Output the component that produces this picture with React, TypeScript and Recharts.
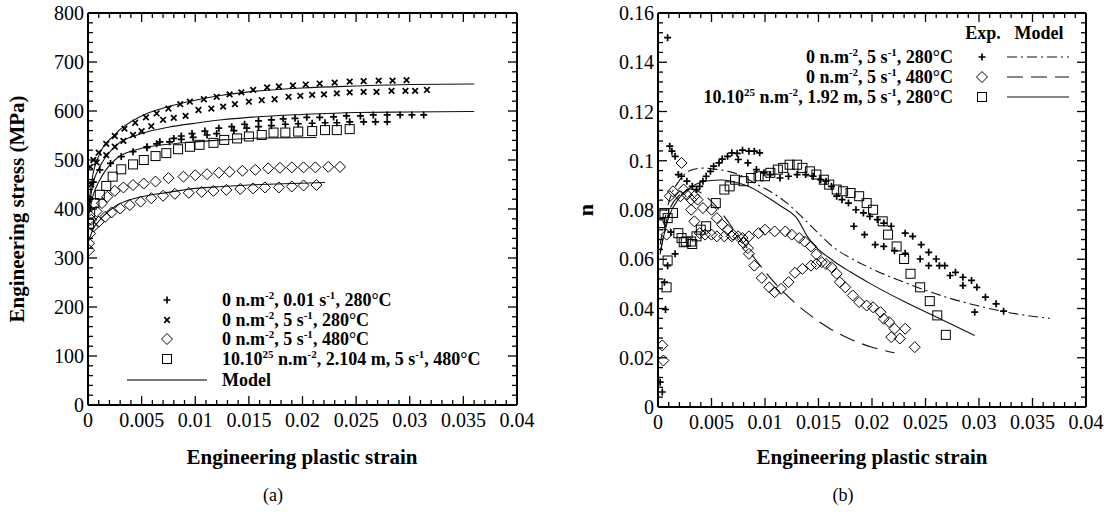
import React from 'react';
import { ComposedChart, Scatter, Line, XAxis, YAxis } from 'recharts';

const FONT = '"Liberation Serif", "Times New Roman", serif';

// ---------- axis ticks ----------
const X_TICK_LABELS = ['0', '0.005', '0.01', '0.015', '0.02', '0.025', '0.03', '0.035', '0.04'];
const STRESS_TICK_LABELS = ['0', '100', '200', '300', '400', '500', '600', '700', '800'];
const N_TICK_LABELS = ['0', '0.02', '0.04', '0.06', '0.08', '0.1', '0.12', '0.14', '0.16'];
const X_TICKS = Array.from({ length: 41 }, (_, i) => i / 1000);
const STRESS_TICKS = Array.from({ length: 41 }, (_, i) => i * 20);
const N_TICKS = Array.from({ length: 41 }, (_, i) => (i * 4) / 1000);

// ---------- (a) stress vs strain ----------
const stressPlusA = [[0.0055,527],[0.0067,537],[0.008,544],[0.0087,549],[0.0097,554],[0.0109,559],[0.0122,565],[0.0134,568],[0.0146,573],[0.0159,580],[0.0171,582],[0.0182,584],[0.0193,585],[0.0204,587],[0.0216,587],[0.0229,588],[0.0241,590],[0.0254,590],[0.0266,592],[0.0279,592],[0.0291,592],[0.0302,592],[0.0313,592]];
const stressPlusB = [[0.0002,420],[0.0005,455],[0.0011,480],[0.0021,493],[0.0031,507],[0.0042,517],[0.0055,525],[0.0064,533],[0.0076,537],[0.0087,542],[0.0098,546],[0.0111,551],[0.012,554],[0.0136,560],[0.0148,565],[0.0159,568],[0.0171,570],[0.0184,573],[0.0196,574],[0.0209,575],[0.0221,576],[0.0232,576],[0.0244,578],[0.0257,578],[0.0268,578],[0.0279,578]];
const stressCrossA = [[0.0001,420],[0.0002,486],[0.0005,500],[0.001,515],[0.0017,533],[0.0025,549],[0.0034,564],[0.0044,576],[0.0054,587],[0.0064,595],[0.0075,605],[0.0086,614],[0.0095,619],[0.0108,624],[0.012,629],[0.0132,634],[0.0143,638],[0.0154,643],[0.0167,648],[0.0178,650],[0.0191,652],[0.0203,654],[0.0216,656],[0.023,658],[0.0244,660],[0.0257,661],[0.0271,662],[0.0284,662],[0.0297,663]];
const stressCrossB = [[0.0001,400],[0.0003,450],[0.0008,495],[0.0017,510],[0.0025,527],[0.0033,539],[0.0042,551],[0.005,559],[0.0059,569],[0.007,582],[0.008,586],[0.0091,590],[0.0103,602],[0.0115,605],[0.0126,609],[0.0137,614],[0.015,619],[0.0162,622],[0.0174,624],[0.0187,629],[0.0198,631],[0.0209,633],[0.022,634],[0.0232,636],[0.0244,638],[0.0257,639],[0.0269,639],[0.0283,641],[0.0296,641],[0.0305,641],[0.0316,643]];
const stressDiamondA = [[0.0001,330],[0.0003,378],[0.0008,395],[0.0013,412],[0.0018,425],[0.0025,437],[0.0033,444],[0.0042,449],[0.0052,452],[0.0063,456],[0.0075,463],[0.0089,466],[0.01,469],[0.0111,471],[0.0122,474],[0.0132,476],[0.0144,478],[0.0156,480],[0.0168,483],[0.0179,484],[0.019,485],[0.0201,485],[0.0212,485],[0.0224,486],[0.0235,486]];
const stressDiamondB = [[0.0001,316],[0.0002,350],[0.0005,364],[0.001,374],[0.0016,384],[0.0022,393],[0.003,401],[0.0039,408],[0.0049,415],[0.0059,422],[0.007,427],[0.0081,431],[0.0094,433],[0.0106,435],[0.0117,437],[0.0129,439],[0.0142,441],[0.0154,442],[0.0165,444],[0.0178,444],[0.019,446],[0.0201,448],[0.0213,449]];
const stressSquare = [[0.0001,370],[0.0002,391],[0.0006,412],[0.0011,429],[0.0017,447],[0.0023,466],[0.0031,481],[0.0042,491],[0.0052,500],[0.0063,508],[0.0073,514],[0.0084,522],[0.0095,527],[0.0104,531],[0.0117,535],[0.0127,541],[0.0139,544],[0.015,548],[0.0162,551],[0.0173,556],[0.0184,556],[0.0196,558],[0.0209,559],[0.0221,561],[0.0232,561],[0.0244,563]];
const stressModelPlus = [[0,390],[0.0005,455],[0.001,482],[0.0025,527],[0.005,554],[0.0075,567],[0.01,575],[0.0125,582],[0.015,587],[0.02,593],[0.025,597],[0.03,598],[0.036,599]];
const stressModelCross = [[0,400],[0.0005,475],[0.001,508],[0.0025,552],[0.005,590],[0.0075,609],[0.01,622],[0.0125,632],[0.015,639],[0.02,647],[0.025,651],[0.03,654],[0.036,655]];
const stressModelSquare = [[0,380],[0.0005,430],[0.001,455],[0.0025,500],[0.005,524],[0.0075,532],[0.01,537],[0.0125,541],[0.015,544],[0.0175,545],[0.0213,546]];
const stressModelDiamond = [[0,330],[0.0005,360],[0.001,375],[0.0025,405],[0.005,425],[0.0075,434],[0.01,442],[0.0125,446],[0.015,449],[0.0175,451],[0.0221,454]];

// ---------- (b) n vs strain ----------
const nPlus = [[0.0009,0.150],[0.0002,0.0101],[0.0004,0.0061],[0.0007,0.0396],[0.0006,0.0507],[0.0009,0.0574],[0.0016,0.0622],[0.0012,0.071],[0.0011,0.1059],[0.0013,0.1039],[0.0016,0.1018],[0.0019,0.0944],[0.0022,0.0937],[0.0027,0.0917],[0.0032,0.0896],[0.0036,0.0883],[0.0039,0.0896],[0.0042,0.0917],[0.0045,0.0937],[0.0049,0.0957],[0.0052,0.0978],[0.0057,0.0991],[0.006,0.1007],[0.0065,0.1018],[0.0069,0.1032],[0.0074,0.103],[0.0079,0.1043],[0.0085,0.1039],[0.009,0.1039],[0.0095,0.1032],[0.0075,0.1005],[0.0084,0.0991],[0.0092,0.0964],[0.0099,0.0951],[0.0105,0.0944],[0.0114,0.093],[0.0122,0.0937],[0.013,0.0944],[0.0138,0.0944],[0.0145,0.0937],[0.0152,0.0923],[0.0157,0.0917],[0.0162,0.0896],[0.0167,0.0856],[0.0172,0.0842],[0.0178,0.0828],[0.0185,0.0801],[0.0192,0.0788],[0.0198,0.0774],[0.0205,0.0761],[0.0211,0.0747],[0.0218,0.0734],[0.0231,0.0706],[0.0238,0.0693],[0.0246,0.0659],[0.0253,0.0628],[0.026,0.0601],[0.0268,0.0574],[0.0278,0.0547],[0.0285,0.0527],[0.0293,0.0514],[0.0298,0.0486],[0.0306,0.0446],[0.0316,0.0419],[0.0323,0.0389],[0.0183,0.0734],[0.0193,0.07],[0.0203,0.0659],[0.0211,0.0652],[0.0221,0.0635],[0.0231,0.0624],[0.0245,0.0601],[0.0253,0.0574],[0.0263,0.0574],[0.0273,0.0534],[0.0285,0.0493],[0.0296,0.0385]];
const nDiamond = [[0.0004,0.025],[0.0005,0.0189],[0.0008,0.07],[0.0011,0.0856],[0.0014,0.0876],[0.0021,0.0856],[0.0022,0.0991],[0.0024,0.0883],[0.0027,0.0862],[0.0031,0.0842],[0.0031,0.0801],[0.0034,0.0856],[0.0034,0.0754],[0.0037,0.0842],[0.0039,0.0706],[0.0042,0.0808],[0.0044,0.07],[0.005,0.0801],[0.005,0.07],[0.0055,0.0767],[0.0055,0.0693],[0.006,0.074],[0.0062,0.0693],[0.0065,0.072],[0.0069,0.0693],[0.007,0.07],[0.0075,0.0693],[0.0079,0.0686],[0.008,0.0666],[0.0084,0.0645],[0.0085,0.0693],[0.0085,0.0622],[0.009,0.0574],[0.0094,0.0706],[0.0097,0.0524],[0.01,0.072],[0.0104,0.0486],[0.0109,0.0713],[0.0109,0.0466],[0.0115,0.048],[0.0119,0.0713],[0.0122,0.0507],[0.0125,0.07],[0.0128,0.0545],[0.0132,0.0686],[0.0135,0.0561],[0.0137,0.0672],[0.0143,0.0652],[0.0143,0.0574],[0.0148,0.0581],[0.0148,0.062],[0.0153,0.0588],[0.0157,0.0581],[0.0162,0.0568],[0.0167,0.0541],[0.017,0.0507],[0.0175,0.0486],[0.0182,0.0453],[0.0188,0.0426],[0.0195,0.0412],[0.0201,0.0405],[0.0208,0.0385],[0.0211,0.0358],[0.0216,0.0345],[0.0221,0.0318],[0.0218,0.0284],[0.0226,0.0278],[0.0231,0.0318],[0.024,0.0243]];
const nSquare = [[0.0008,0.0486],[0.0009,0.0595],[0.0002,0.0747],[0.0006,0.0788],[0.0009,0.0767],[0.0014,0.0788],[0.0019,0.0706],[0.0022,0.0686],[0.0024,0.0669],[0.0026,0.0672],[0.0031,0.0672],[0.0032,0.0662],[0.0036,0.0693],[0.004,0.072],[0.0045,0.0734],[0.0054,0.0828],[0.0062,0.0883],[0.0067,0.0896],[0.0072,0.0923],[0.008,0.0917],[0.0087,0.093],[0.0094,0.0937],[0.01,0.0937],[0.0105,0.0951],[0.0112,0.0964],[0.0117,0.0971],[0.0123,0.0984],[0.013,0.0984],[0.0135,0.0971],[0.0142,0.0957],[0.0148,0.0944],[0.0155,0.0923],[0.016,0.0903],[0.0167,0.0883],[0.0173,0.0876],[0.018,0.0869],[0.0188,0.0856],[0.0195,0.0828],[0.0201,0.0801],[0.021,0.0754],[0.0215,0.07],[0.0223,0.0652],[0.023,0.0601],[0.0236,0.0541],[0.0245,0.0486],[0.0254,0.043],[0.0261,0.0372],[0.0269,0.0293]];
const nModelDashDot = [[0.0002,0.066],[0.001,0.083],[0.002,0.092],[0.003,0.096],[0.0042,0.097],[0.0055,0.0965],[0.0075,0.0945],[0.0092,0.0905],[0.0105,0.0875],[0.012,0.083],[0.0135,0.077],[0.015,0.0705],[0.0165,0.0645],[0.018,0.0605],[0.0198,0.0565],[0.0231,0.0505],[0.0265,0.0452],[0.0298,0.0412],[0.0331,0.0381],[0.0366,0.036]];
const nModelLongDash = [[0.0002,0.062],[0.001,0.079],[0.002,0.086],[0.003,0.0885],[0.004,0.087],[0.005,0.0835],[0.006,0.0785],[0.007,0.0725],[0.008,0.0665],[0.009,0.0605],[0.01,0.055],[0.012,0.0455],[0.014,0.038],[0.016,0.032],[0.018,0.0275],[0.02,0.0243],[0.0221,0.022]];
const nModelSolid = [[0.0002,0.063],[0.001,0.077],[0.002,0.085],[0.003,0.089],[0.0045,0.0918],[0.006,0.0922],[0.0075,0.091],[0.0085,0.0895],[0.01,0.0858],[0.0115,0.0815],[0.013,0.0765],[0.014,0.069],[0.0165,0.059],[0.018,0.0548],[0.0198,0.0502],[0.0231,0.0426],[0.0265,0.0355],[0.0296,0.029]];

const pts = (arr: number[][]) => arr.map(([x, y]) => ({ x, y }));

// ---------- marker shapes ----------
const PlusShape = (p: any) => (
  <path d={`M${p.cx - 3.5},${p.cy}h7M${p.cx},${p.cy - 3.5}v7`} stroke="#000" strokeWidth={1.7} fill="none" />
);
const CrossShape = (p: any) => (
  <path d={`M${p.cx - 2.8},${p.cy - 2.8}l5.6,5.6M${p.cx - 2.8},${p.cy + 2.8}l5.6,-5.6`} stroke="#000" strokeWidth={1.7} fill="none" />
);
const DiamondShape = (p: any) => (
  <path d={`M${p.cx},${p.cy - 5.5}L${p.cx + 5.5},${p.cy}L${p.cx},${p.cy + 5.5}L${p.cx - 5.5},${p.cy}Z`} stroke="#000" strokeWidth={1} fill="none" />
);
const SquareShape = (p: any) => (
  <rect x={p.cx - 4.5} y={p.cy - 4.5} width={9} height={9} stroke="#000" strokeWidth={1} fill="none" />
);

// ---------- tick renderers ----------
const isMajorIdx = (v: number, unit: number, step: number) => {
  const i = Math.round(v / unit);
  return { i, major: i % step === 0 };
};
const MAJ = 9;
const MIN = 5;
const tickText = { fontFamily: FONT, fontSize: 20, fill: '#000' } as const;

const bottomTick = (labels: string[]) => (p: any) => {
  const { i, major } = isMajorIdx(p.payload.value, 0.001, 5);
  return (
    <g>
      <line x1={p.x} x2={p.x} y1={p.y} y2={p.y - (major ? MAJ : MIN)} stroke="#000" strokeWidth={1.3} />
      {major && (
        <text x={p.x} y={p.y + 22} textAnchor="middle" {...tickText}>{labels[i / 5]}</text>
      )}
    </g>
  );
};
const topTick = (p: any) => {
  const { major } = isMajorIdx(p.payload.value, 0.001, 5);
  return <line x1={p.x} x2={p.x} y1={p.y} y2={p.y + (major ? MAJ : MIN)} stroke="#000" strokeWidth={1.3} />;
};
const leftTick = (labels: string[], unit: number) => (p: any) => {
  const { i, major } = isMajorIdx(p.payload.value, unit, 5);
  return (
    <g>
      <line x1={p.x} x2={p.x + (major ? MAJ : MIN)} y1={p.y} y2={p.y} stroke="#000" strokeWidth={1.3} />
      {major && (
        <text x={p.x - 4} y={p.y + 7} textAnchor="end" {...tickText}>{labels[i / 5]}</text>
      )}
    </g>
  );
};
const rightTick = (unit: number) => (p: any) => {
  const { major } = isMajorIdx(p.payload.value, unit, 5);
  return <line x1={p.x} x2={p.x - (major ? MAJ : MIN)} y1={p.y} y2={p.y} stroke="#000" strokeWidth={1.3} />;
};

const axisLine = { stroke: '#000', strokeWidth: 2 };

// ---------- text helper with superscripts ----------
type Seg = [string, boolean];
const SupText = ({ x, y, segs, anchor = 'start', size = 18 }: { x: number; y: number; segs: Seg[]; anchor?: string; size?: number }) => {
  let raised = false;
  return (
    <text x={x} y={y} textAnchor={anchor as any} fontFamily={FONT} fontWeight="bold" fontSize={size} fill="#000">
      {segs.map(([t, sup], k) => {
        let dy = 0;
        if (sup && !raised) { dy = -7; raised = true; }
        else if (!sup && raised) { dy = 7; raised = false; }
        return (
          <tspan key={k} dy={dy} fontSize={sup ? 11 : size}>{t}</tspan>
        );
      })}
    </text>
  );
};

const legendA: Seg[][] = [
  [['0 n.m', false], ['-2', true], [', 0.01 s', false], ['-1', true], [', 280°C', false]],
  [['0 n.m', false], ['-2', true], [', 5 s', false], ['-1', true], [', 280°C', false]],
  [['0 n.m', false], ['-2', true], [', 5 s', false], ['-1', true], [', 480°C', false]],
  [['10.10', false], ['25', true], [' n.m', false], ['-2', true], [', 2.104 m, 5 s', false], ['-1', true], [', 480°C', false]],
];
const legendB: Seg[][] = [
  [['0 n.m', false], ['-2', true], [',  5 s', false], ['-1', true], [', 280°C', false]],
  [['0 n.m', false], ['-2', true], [', 5 s', false], ['-1', true], [', 480°C', false]],
  [['10.10', false], ['25', true], [' n.m', false], ['-2', true], [', 1.92 m, 5 s', false], ['-1', true], [', 280°C', false]],
];

const ChartA = () => (
  <div style={{ position: 'absolute', left: 0, top: 0, width: 560, height: 512 }}>
    <ComposedChart width={560} height={512} margin={{ top: 12, right: 42, bottom: 106, left: 87 }}>
      <XAxis xAxisId="b" type="number" dataKey="x" domain={[0, 0.04]} allowDataOverflow ticks={X_TICKS} interval={0}
        height={1} tickSize={0} tickMargin={0} tickLine={false} axisLine={axisLine} tick={bottomTick(X_TICK_LABELS)} />
      <XAxis xAxisId="t" orientation="top" type="number" dataKey="x" domain={[0, 0.04]} allowDataOverflow ticks={X_TICKS} interval={0}
        height={1} tickSize={0} tickMargin={0} tickLine={false} axisLine={axisLine} tick={topTick} />
      <YAxis yAxisId="l" type="number" dataKey="y" domain={[0, 800]} allowDataOverflow ticks={STRESS_TICKS} interval={0}
        width={1} tickSize={0} tickMargin={0} tickLine={false} axisLine={axisLine} tick={leftTick(STRESS_TICK_LABELS, 20)} />
      <YAxis yAxisId="r" orientation="right" type="number" dataKey="y" domain={[0, 800]} allowDataOverflow ticks={STRESS_TICKS} interval={0}
        width={1} tickSize={0} tickMargin={0} tickLine={false} axisLine={axisLine} tick={rightTick(20)} />
      <Line xAxisId="b" yAxisId="l" data={pts(stressModelCross)} dataKey="y" type="monotone" stroke="#111" strokeWidth={1.1} dot={false} isAnimationActive={false} />
      <Line xAxisId="b" yAxisId="l" data={pts(stressModelPlus)} dataKey="y" type="monotone" stroke="#111" strokeWidth={1.1} dot={false} isAnimationActive={false} />
      <Line xAxisId="b" yAxisId="l" data={pts(stressModelSquare)} dataKey="y" type="monotone" stroke="#111" strokeWidth={1.1} dot={false} isAnimationActive={false} />
      <Line xAxisId="b" yAxisId="l" data={pts(stressModelDiamond)} dataKey="y" type="monotone" stroke="#111" strokeWidth={1.1} dot={false} isAnimationActive={false} />
      <Scatter xAxisId="b" yAxisId="l" data={pts(stressPlusA)} shape={PlusShape} isAnimationActive={false} />
      <Scatter xAxisId="b" yAxisId="l" data={pts(stressPlusB)} shape={PlusShape} isAnimationActive={false} />
      <Scatter xAxisId="b" yAxisId="l" data={pts(stressCrossA)} shape={CrossShape} isAnimationActive={false} />
      <Scatter xAxisId="b" yAxisId="l" data={pts(stressCrossB)} shape={CrossShape} isAnimationActive={false} />
      <Scatter xAxisId="b" yAxisId="l" data={pts(stressDiamondA)} shape={DiamondShape} isAnimationActive={false} />
      <Scatter xAxisId="b" yAxisId="l" data={pts(stressDiamondB)} shape={DiamondShape} isAnimationActive={false} />
      <Scatter xAxisId="b" yAxisId="l" data={pts(stressSquare)} shape={SquareShape} isAnimationActive={false} />
    </ComposedChart>
    <svg width={560} height={512} style={{ position: 'absolute', left: 0, top: 0, pointerEvents: 'none' }}>
      <text transform="translate(24,209) rotate(-90)" textAnchor="middle" fontFamily={FONT} fontWeight="bold" fontSize={21}>Engineering stress (MPa)</text>
      <text x={302} y={464} textAnchor="middle" fontFamily={FONT} fontWeight="bold" fontSize={21}>Engineering plastic strain</text>
      <text x={273} y={501} textAnchor="middle" fontFamily={FONT} fontSize={18}>(a)</text>
      <PlusShape cx={167} cy={300} />
      <CrossShape cx={167} cy={320} />
      <DiamondShape cx={167} cy={339} />
      <SquareShape cx={167} cy={359} />
      <line x1={127} x2={207} y1={380} y2={380} stroke="#777" strokeWidth={2} />
      {legendA.map((segs, k) => (
        <SupText key={k} x={222} y={[300, 320, 339, 359][k] + 6} segs={segs} />
      ))}
      <text x={222} y={386} fontFamily={FONT} fontWeight="bold" fontSize={18}>Model</text>
    </svg>
  </div>
);

const ChartB = () => (
  <div style={{ position: 'absolute', left: 558, top: 0, width: 549, height: 512 }}>
    <ComposedChart width={549} height={512} margin={{ top: 12, right: 20, bottom: 104, left: 99 }}>
      <XAxis xAxisId="b" type="number" dataKey="x" domain={[0, 0.04]} allowDataOverflow ticks={X_TICKS} interval={0}
        height={1} tickSize={0} tickMargin={0} tickLine={false} axisLine={axisLine} tick={bottomTick(X_TICK_LABELS)} />
      <XAxis xAxisId="t" orientation="top" type="number" dataKey="x" domain={[0, 0.04]} allowDataOverflow ticks={X_TICKS} interval={0}
        height={1} tickSize={0} tickMargin={0} tickLine={false} axisLine={axisLine} tick={topTick} />
      <YAxis yAxisId="l" type="number" dataKey="y" domain={[0, 0.16]} allowDataOverflow ticks={N_TICKS} interval={0}
        width={1} tickSize={0} tickMargin={0} tickLine={false} axisLine={axisLine} tick={leftTick(N_TICK_LABELS, 0.004)} />
      <YAxis yAxisId="r" orientation="right" type="number" dataKey="y" domain={[0, 0.16]} allowDataOverflow ticks={N_TICKS} interval={0}
        width={1} tickSize={0} tickMargin={0} tickLine={false} axisLine={axisLine} tick={rightTick(0.004)} />
      <Line xAxisId="b" yAxisId="l" data={pts(nModelDashDot)} dataKey="y" type="monotone" stroke="#111" strokeWidth={1.1} strokeDasharray="10 4 2 4" dot={false} isAnimationActive={false} />
      <Line xAxisId="b" yAxisId="l" data={pts(nModelLongDash)} dataKey="y" type="monotone" stroke="#111" strokeWidth={1.1} strokeDasharray="16 8" dot={false} isAnimationActive={false} />
      <Line xAxisId="b" yAxisId="l" data={pts(nModelSolid)} dataKey="y" type="monotone" stroke="#111" strokeWidth={1.1} dot={false} isAnimationActive={false} />
      <Scatter xAxisId="b" yAxisId="l" data={pts(nPlus)} shape={PlusShape} isAnimationActive={false} />
      <Scatter xAxisId="b" yAxisId="l" data={pts(nDiamond)} shape={DiamondShape} isAnimationActive={false} />
      <Scatter xAxisId="b" yAxisId="l" data={pts(nSquare)} shape={SquareShape} isAnimationActive={false} />
    </ComposedChart>
    <svg width={549} height={512} style={{ position: 'absolute', left: 0, top: 0, pointerEvents: 'none' }}>
      <text transform="translate(35,210) rotate(-90)" textAnchor="middle" fontFamily={FONT} fontWeight="bold" fontSize={22}>n</text>
      <text x={314} y={464} textAnchor="middle" fontFamily={FONT} fontWeight="bold" fontSize={21}>Engineering plastic strain</text>
      <text x={285} y={501} textAnchor="middle" fontFamily={FONT} fontSize={18}>(b)</text>
      <text x={425} y={39} textAnchor="middle" fontFamily={FONT} fontWeight="bold" fontSize={18}>Exp.</text>
      <text x={481} y={39} textAnchor="middle" fontFamily={FONT} fontWeight="bold" fontSize={18}>Model</text>
      {legendB.map((segs, k) => (
        <SupText key={k} x={395} y={[57, 77, 97][k] + 6} segs={segs} anchor="end" />
      ))}
      <PlusShape cx={424} cy={57} />
      <DiamondShape cx={424} cy={77} />
      <SquareShape cx={424} cy={97} />
      <line x1={449} x2={511} y1={57} y2={57} stroke="#111" strokeWidth={1.1} strokeDasharray="10 4 2 4" />
      <line x1={449} x2={511} y1={77} y2={77} stroke="#111" strokeWidth={1.1} strokeDasharray="16 8" />
      <line x1={449} x2={511} y1={97} y2={97} stroke="#111" strokeWidth={1.1} />
    </svg>
  </div>
);

export default function App() {
  return (
    <div style={{ position: 'absolute', left: 0, top: 0, width: 1107, height: 512, background: '#fff', overflow: 'hidden' }}>
      <ChartA />
      <ChartB />
    </div>
  );
}
